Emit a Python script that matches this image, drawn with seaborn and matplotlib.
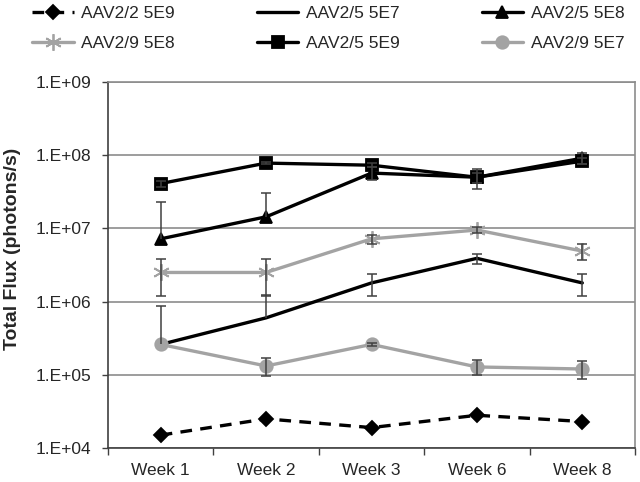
import numpy as np
import pandas as pd
import matplotlib
matplotlib.use("Agg")
import matplotlib.pyplot as plt
import seaborn as sns

# Dados (fluxo total, photons/s)
weeks = ["Week 1", "Week 2", "Week 3", "Week 6", "Week 8"]

aav22_5e9 = [1.5e4, 2.5e4, 1.9e4, 2.8e4, 2.3e4]
aav22_5e9_err = [0, 0, 0, 0, 0]

aav25_5e7 = [2.6e5, 6.0e5, 1.8e6, 3.9e6, 1.8e6]
aav25_5e7_err = [6.1e5, 6.3e5, 6.2e5, 6.0e5, 6.2e5]

aav25_5e8 = [7.2e6, 1.44e7, 5.7e7, 5.0e7, 9.1e7]
aav25_5e8_err = [1.6e7, 1.6e7, 1.1e7, 1.5e7, 1.5e7]

aav29_5e8 = [2.5e6, 2.5e6, 7.2e6, 9.5e6, 4.9e6]
aav29_5e8_err = [1.3e6, 1.3e6, 1.0e6, 8e5, 1.2e6]

aav25_5e9 = [4.1e7, 7.8e7, 7.3e7, 5.0e7, 8.3e7]
aav25_5e9_err = [4e6, 3e6, 5e6, 8e6, 8e6]

aav29_5e7 = [2.6e5, 1.32e5, 2.6e5, 1.28e5, 1.2e5]
aav29_5e7_err = [0, 3.5e4, 1e4, 3e4, 3.2e4]

ytick_vals = [1e4, 1e5, 1e6, 1e7, 1e8, 1e9]
ytick_labels = ["1.E+04", "1.E+05", "1.E+06", "1.E+07", "1.E+08", "1.E+09"]

BLACK = "#000000"
GRAY = "#a3a3a3"
AXIS = "#404040"
GRID = "#8c8c8c"

series = [
    ("AAV2/2 5E9", aav22_5e9, aav22_5e9_err, BLACK, "D", 7, "--"),
    ("AAV2/5 5E7", aav25_5e7, aav25_5e7_err, BLACK, None, 0, "-"),
    ("AAV2/5 5E8", aav25_5e8, aav25_5e8_err, BLACK, "^", 9, "-"),
    ("AAV2/9 5E8", aav29_5e8, aav29_5e8_err, GRAY, (6, 2, 0), 12, "-"),
    ("AAV2/5 5E9", aav25_5e9, aav25_5e9_err, BLACK, "s", 9, "-"),
    ("AAV2/9 5E7", aav29_5e7, aav29_5e7_err, GRAY, "o", 9, "-"),
]

sns.set_style("white")
plt.rcParams["font.family"] = ["Liberation Sans", "DejaVu Sans"]

fig = plt.figure(figsize=(6.4, 4.82), dpi=100)
ax = fig.add_axes([108 / 640, 34 / 482, 527 / 640, 366 / 482])
ax.set_yscale("log")


def draw_err(ax, vals, err):
    """Barras de erro estilo Excel: sem parte inferior quando negativa."""
    vals = np.asarray(vals, float)
    err = np.asarray(err, float)
    if not err.any():
        return
    x = np.arange(len(vals))
    lo = np.where(vals - err > 0, err, 0)
    _, caps, bars = ax.errorbar(x, vals, yerr=[lo, err], fmt="none", ecolor=AXIS,
                                elinewidth=1.1, capsize=3.5, capthick=1.1, zorder=4)
    caps[0].set_ydata(np.where(lo > 0, vals - lo, np.nan))
    caps[1].set_ydata(np.where(err > 0, vals + err, np.nan))


handles = []
for name, vals, err, color, marker, msize, ls in series:
    df = pd.DataFrame({"week": weeks, "flux": vals})
    sns.lineplot(data=df, x="week", y="flux", ax=ax, color=color, lw=2.4,
                 marker=marker, markersize=msize, markeredgecolor=color,
                 markeredgewidth=1.3, linestyle=ls, sort=False, zorder=3,
                 legend=False)
    line = ax.lines[-1]
    if ls == "--":
        line.set_dashes([3.5, 2.5])
    line.set_label(name)
    handles.append(line)
    draw_err(ax, vals, err)

ax.set_xlim(-0.5, len(weeks) - 0.5)
ax.set_ylim(ytick_vals[0], ytick_vals[-1])
ax.set_yticks(ytick_vals)
ax.set_yticklabels(ytick_labels)
ax.yaxis.set_minor_locator(matplotlib.ticker.NullLocator())
ax.set_xticks(np.arange(len(weeks)))
ax.set_xticklabels(weeks)
ax.set_xticks(np.arange(len(weeks) + 1) - 0.5, minor=True)

ax.tick_params(axis="y", which="major", direction="out", length=4, width=1,
               color=AXIS, pad=8, labelsize=12.5, left=True)
ax.tick_params(axis="x", which="major", length=0, pad=11, labelsize=12.5)
ax.tick_params(axis="x", which="minor", direction="out", length=5, width=1,
               color=AXIS, bottom=True)

ax.yaxis.grid(True, color=GRID, lw=1.2)
ax.xaxis.grid(False)
ax.set_axisbelow(True)
for side in ["left", "bottom"]:
    ax.spines[side].set_color(AXIS)
    ax.spines[side].set_linewidth(1.2)
for side in ["top", "right"]:
    ax.spines[side].set_color(GRID)
    ax.spines[side].set_linewidth(1.2)

ax.set_xlabel("")
ax.set_ylabel("Total Flux (photons/s)", fontsize=14, fontweight="bold")
ax.yaxis.set_label_coords(-0.166, 0.544)

# legenda em 3 colunas, preenchida por linha como no original
order = [0, 3, 1, 4, 2, 5]
fig.legend([handles[i] for i in order], [handles[i].get_label() for i in order],
           loc="upper left", bbox_to_anchor=(32 / 640, 1 - 6 / 482), ncol=3,
           frameon=False, fontsize=12.5, handlelength=2.4, handletextpad=0.45,
           columnspacing=4.7, labelspacing=0.85, borderpad=0, numpoints=1,
           borderaxespad=0)

fig.savefig("out.png", dpi=100)
